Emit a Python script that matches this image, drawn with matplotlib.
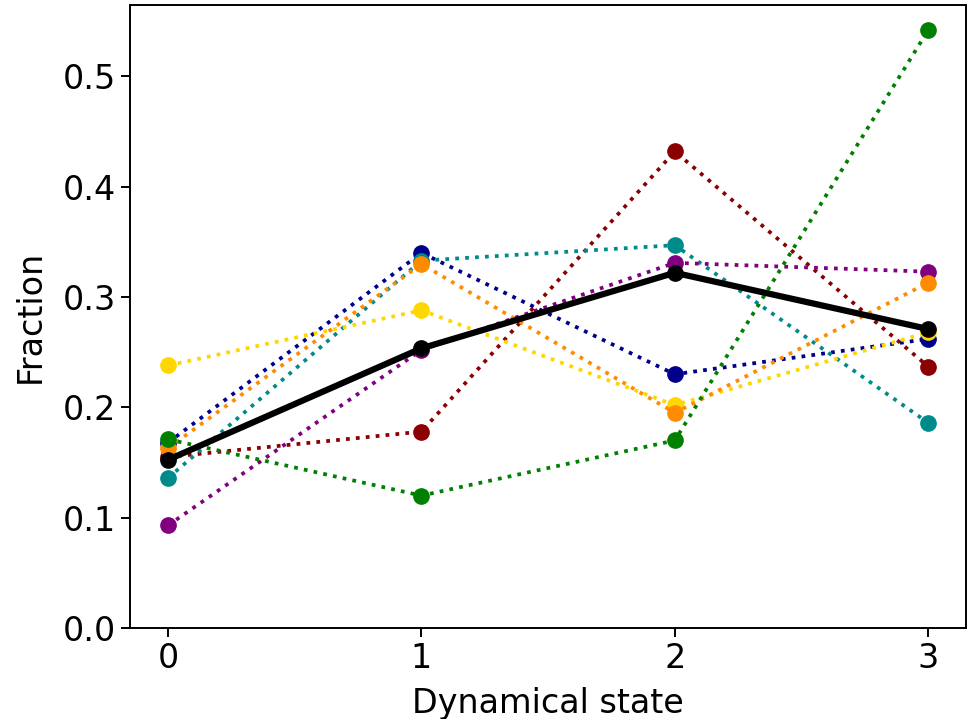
import numpy as np
import matplotlib
matplotlib.use("Agg")
import matplotlib.pyplot as plt

states = [0, 1, 2, 3]

# fraction per dynamical state for each group
navy = [0.168, 0.340, 0.230, 0.262]
darkred = [0.155, 0.178, 0.432, 0.237]
teal = [0.136, 0.333, 0.347, 0.186]
purple = [0.093, 0.252, 0.331, 0.323]
yellow = [0.238, 0.288, 0.202, 0.268]
orange = [0.163, 0.330, 0.195, 0.313]
green = [0.171, 0.120, 0.170, 0.542]
# overall
mean_frac = [0.1525, 0.2535, 0.322, 0.271]

series = [
    (navy, "#00008b"),
    (darkred, "#8b0000"),
    (teal, "#008b8b"),
    (purple, "#800080"),
    (yellow, "#ffd700"),
    (orange, "#ff8c00"),
    (green, "#008000"),
]

fig = plt.figure(figsize=(9.74, 7.19), dpi=100)
ax = fig.add_axes([0.1335, 0.1266, 0.8585, 0.866])

for vals, col in series:
    ax.plot(states, vals, ":", color=col, lw=2.7, marker="o", ms=11)

ax.plot(states, mean_frac, "-", color="black", lw=4.5, marker="o", ms=11)

ax.set_ylim(bottom=0)
ax.set_xticks(states)
ax.set_yticks([0.0, 0.1, 0.2, 0.3, 0.4, 0.5])
ax.tick_params(labelsize=24, width=1.4, length=6.3)
for s in ax.spines.values():
    s.set_linewidth(1.4)
ax.set_xlabel("Dynamical state", fontsize=24, labelpad=9)
ax.set_ylabel("Fraction", fontsize=24, labelpad=12)

fig.savefig("out.png", dpi=100)
